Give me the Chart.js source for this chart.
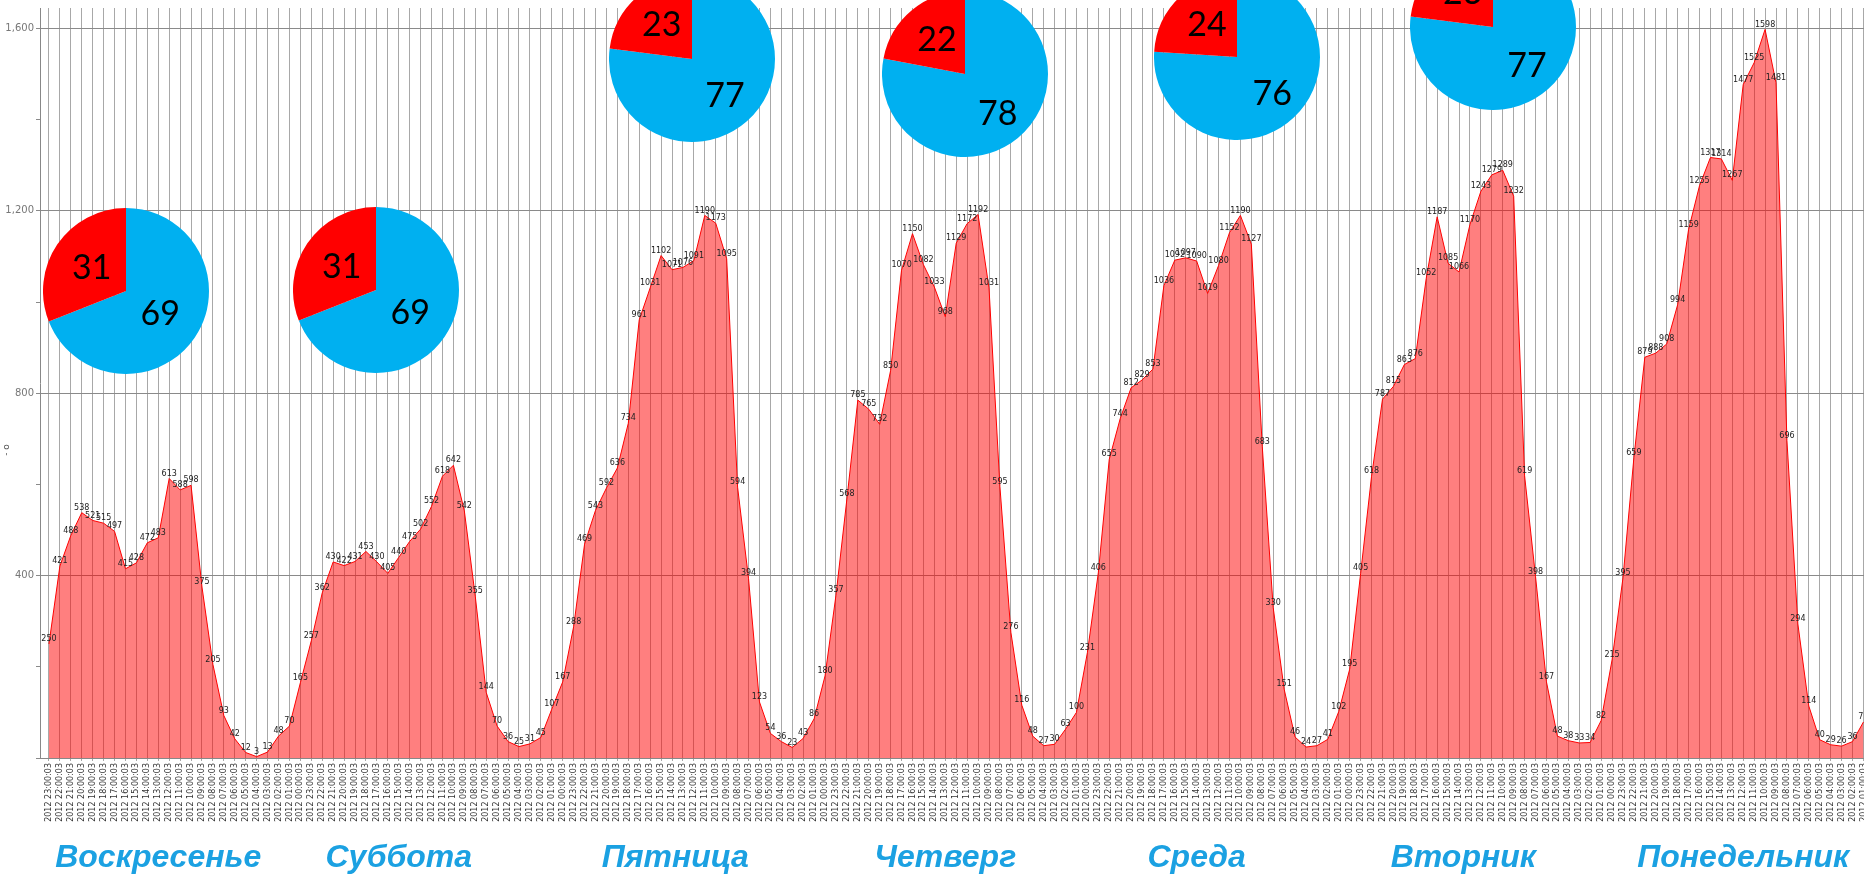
<!DOCTYPE html>
<html><head><meta charset="utf-8">
<script src="https://cdn.jsdelivr.net/npm/chart.js@4.4.1/dist/chart.umd.min.js"></script>
<style>
html,body{margin:0;padding:0;background:#fff;overflow:hidden;width:1864px;height:879px;}
#wrap{position:relative;width:1864px;height:879px;overflow:hidden;}
#wrap canvas{position:absolute;}
</style></head><body><div id="wrap"><canvas id="main" width="1864" height="879" style="left:0;top:0"></canvas></div>
<script>
// hourly values, newest first (Sunday -> Monday)
const values = [
 250,421,488,538,521,515,497,415,428,472,483,613,588,598,375,205,93,42,12,3,13,48,70,165,
 257,362,430,422,431,453,430,405,440,475,502,552,618,642,542,355,144,70,36,25,31,45,107,167,
 288,469,543,592,636,734,961,1031,1102,1071,1076,1091,1190,1173,1095,594,394,123,54,36,23,43,86,180,
 357,568,785,765,732,850,1070,1150,1082,1033,968,1129,1172,1192,1031,595,276,116,48,27,30,63,100,231,
 406,655,744,812,829,853,1036,1092,1097,1090,1019,1080,1152,1190,1127,683,330,151,46,24,27,41,102,195,
 405,618,787,815,863,876,1052,1187,1085,1066,1170,1243,1279,1289,1232,619,398,167,48,38,33,34,82,215,
 395,659,879,888,908,994,1159,1255,1317,1314,1267,1477,1525,1598,1481,696,294,114,40,29,26,36,79
];
const hours = [23,22,21,20,19,18,17,16,15,14,13,12,11,10,9,8,7,6,5,4,3,2,1,0];
const hourLabels = values.map((_, i) => '2012 ' + String(hours[i % 24]).padStart(2,'0') + ':00:03');
const yTicks = [0,200,400,600,800,1000,1200,1400,1600];
const dayNames = ['Воскресенье','Суббота','Пятница','Четверг','Среда','Вторник','Понедельник'];
const dayLabelAt = [10, 32, 57.3, 82, 105, 129.4, 155];
const pieRed  = [31,31,23,22,24,23];
const pieBlue = [69,69,77,78,76,77];
const pieCenters = [[126,291],[376,290],[692,59],[965,74],[1237,57],[1493,27]];
const pieTextRadius = [[0.5,0.5],[0.5,0.5],[0.6,0.55],[0.62,0.53],[0.62,0.53],[0.62,0.55]];
const yTitle = '- o';

const pointLabels = {
  id:'pointLabels',
  afterDatasetsDraw(chart){
    const ctx = chart.ctx, meta = chart.getDatasetMeta(0);
    ctx.save();
    ctx.font = '8px "DejaVu Sans"';
    ctx.fillStyle = '#222';
    ctx.textAlign = 'center';
    ctx.textBaseline = 'bottom';
    meta.data.forEach((pt, i) => ctx.fillText(String(values[i]), pt.x, pt.y - 1));
    ctx.restore();
  }
};
const dayPlugin = {
  id:'days',
  afterDraw(chart){
    const ctx = chart.ctx, xs = chart.scales.x;
    ctx.save();
    ctx.font = 'italic bold 32px "Liberation Sans"';
    ctx.fillStyle = '#1BA1E2';
    ctx.textAlign = 'center';
    ctx.textBaseline = 'middle';
    dayNames.forEach((d, i) => ctx.fillText(d, xs.getPixelForValue(dayLabelAt[i]), 858));
    ctx.translate(7, 450);
    ctx.rotate(-Math.PI/2);
    ctx.font = '9px "DejaVu Sans"';
    ctx.fillStyle = '#555';
    ctx.fillText(yTitle, 0, 0);
    ctx.restore();
  }
};

new Chart(document.getElementById('main'), {
  type:'line',
  data:{ datasets:[{
    data: values.map((v, i) => ({x:i, y:v})),
    borderColor:'#ff0000', borderWidth:1,
    backgroundColor:'rgba(255,0,0,0.5)', fill:'origin',
    pointRadius:0, tension:0
  }]},
  options:{
    responsive:false, animation:false, devicePixelRatio:1,
    layout:{padding:{top:8,right:0,left:0,bottom:0}},
    plugins:{legend:{display:false}, tooltip:{enabled:false}},
    scales:{
      x:{
        type:'linear', min:-0.82, max:166.05,
        afterBuildTicks(ax){ ax.ticks = values.map((_, i) => ({value:i})); },
        afterFit(ax){ ax.height = 121; ax.paddingLeft = 0; ax.paddingRight = 0; },
        ticks:{autoSkip:false, maxRotation:90, minRotation:90, padding:2,
          font:{size:8, family:'DejaVu Sans'}, color:'#333',
          callback:(v) => hourLabels[v]},
        grid:{color:'#a8a8a8', lineWidth:1, tickLength:3},
        border:{color:'#888'}
      },
      y:{
        min:0, max:1645,
        afterBuildTicks(ax){ ax.ticks = yTicks.map(v => ({value:v})); },
        afterFit(ax){ ax.width = 40; ax.paddingTop = 0; ax.paddingBottom = 0; },
        ticks:{includeBounds:false, padding:2, font:{size:10, family:'DejaVu Sans'}, color:'#777',
          callback:(v) => (v % 400 === 0 && v > 0) ? v.toLocaleString('en-US') : ''},
        grid:{color:(c) => (c.tick && c.tick.value % 400 === 0 && c.tick.value > 0) ? '#8a8a8a' : 'rgba(0,0,0,0)',
          tickColor:'#8a8a8a', tickLength:4},
        border:{color:'#888'}
      }
    }
  },
  plugins:[pointLabels, dayPlugin]
});

function makePieText(k){
  return {
    id:'pieText' + k,
    afterDatasetsDraw(chart){
      const ctx = chart.ctx, meta = chart.getDatasetMeta(0), ds = chart.data.datasets[0];
      ctx.save();
      ctx.font = '34px Lato';
      ctx.fillStyle = '#000';
      ctx.textAlign = 'center';
      ctx.textBaseline = 'middle';
      meta.data.forEach((arc, i) => {
        const p = arc.getProps(['x','y','startAngle','endAngle','outerRadius'], true);
        const a = (p.startAngle + p.endAngle) / 2, r = p.outerRadius * pieTextRadius[k][i];
        ctx.fillText(String(ds.data[i]), p.x + Math.cos(a) * r, p.y + Math.sin(a) * r);
      });
      ctx.restore();
    }
  };
}
const wrap = document.getElementById('wrap');
pieCenters.forEach((c, k) => {
  const cv = document.createElement('canvas');
  cv.width = 166; cv.height = 166;
  cv.style.left = (c[0] - 83) + 'px';
  cv.style.top = (c[1] - 83) + 'px';
  wrap.appendChild(cv);
  new Chart(cv, {
    type:'pie',
    data:{ labels:['b','r'], datasets:[{ data:[pieBlue[k], pieRed[k]], backgroundColor:['#00B0F0','#FF0000'], borderWidth:0 }]},
    options:{ responsive:false, animation:false, devicePixelRatio:1,
      layout:{padding:0}, plugins:{legend:{display:false}, tooltip:{enabled:false}} },
    plugins:[makePieText(k)]
  });
});
</script></body></html>
